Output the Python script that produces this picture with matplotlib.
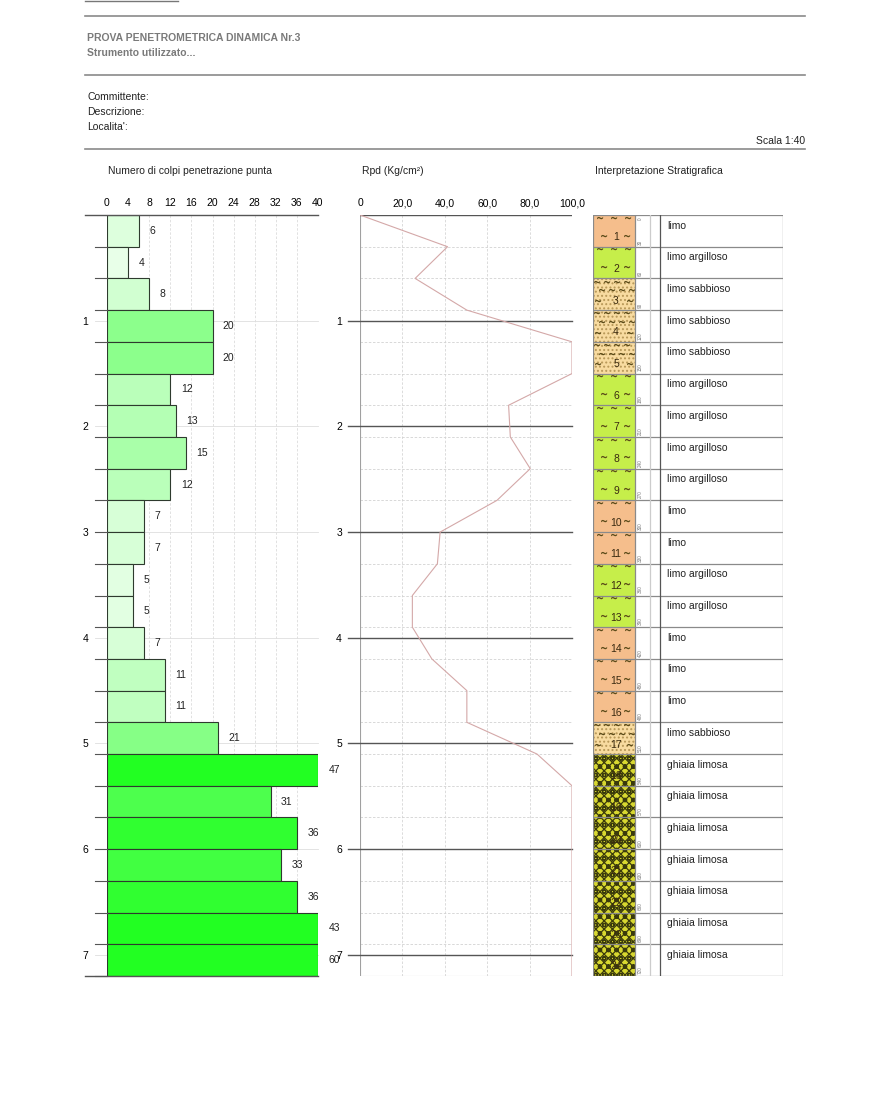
import matplotlib
matplotlib.use('Agg')
import matplotlib.pyplot as plt
import numpy as np
from matplotlib.patches import Rectangle

plt.rcParams['font.family'] = ['Liberation Sans', 'DejaVu Sans']
plt.rcParams['hatch.linewidth'] = 0.9

# --- data ---
layer_bottom = [0.3, 0.6, 0.9, 1.2, 1.5, 1.8, 2.1, 2.4, 2.7, 3.0, 3.3, 3.6,
                3.9, 4.2, 4.5, 4.8, 5.1, 5.4, 5.7, 6.0, 6.3, 6.6, 6.9, 7.2]
blows = [6, 4, 8, 20, 20, 12, 13, 15, 12, 7, 7, 5,
         5, 7, 11, 11, 21, 47, 31, 36, 33, 36, 43, 60]
rpd_depth = [0.0] + layer_bottom
rpd = [0.0, 41.3, 26.0, 50.4, 100.0, 100.0, 70.1, 70.9, 80.3, 64.6, 37.8, 36.5,
       24.7, 24.7, 33.9, 50.4, 50.4, 83.5, 100.0, 100.0, 100.0, 100.0, 100.0, 100.0, 100.0]
strata = ['limo', 'limo argilloso', 'limo sabbioso', 'limo sabbioso', 'limo sabbioso',
          'limo argilloso', 'limo argilloso', 'limo argilloso', 'limo argilloso',
          'limo', 'limo', 'limo argilloso', 'limo argilloso', 'limo', 'limo', 'limo',
          'limo sabbioso', 'ghiaia limosa', 'ghiaia limosa', 'ghiaia limosa',
          'ghiaia limosa', 'ghiaia limosa', 'ghiaia limosa', 'ghiaia limosa']
blow_ticks = [0, 4, 8, 12, 16, 20, 24, 28, 32, 36, 40]
rpd_ticks = [0, 20, 40, 60, 80, 100]
rpd_ticklabels = ['0', '20,0', '40,0', '60,0', '80,0', '100,0']
depth_ticks = [1, 2, 3, 4, 5, 6, 7]

W, H = 889, 1100
FS = 7.5
fig = plt.figure(figsize=(W / 100, H / 100), dpi=100)


def px_axes(x0, y0, x1, y1):
    return fig.add_axes([x0 / W, 1 - y1 / H, (x1 - x0) / W, (y1 - y0) / H])


# overlay in pixel coords for the header
ov = fig.add_axes([0, 0, 1, 1])
ov.set_xlim(0, W)
ov.set_ylim(H, 0)
ov.axis('off')

ov.plot([85, 178], [1, 1], color='#777777', lw=1)
for y in (16, 75, 149):
    ov.plot([85, 805], [y, y], color='#8a8a8a', lw=1.2)
ov.text(87, 38, 'PROVA PENETROMETRICA DINAMICA Nr.3', fontsize=FS, weight='bold',
        color='#7a7a7a', va='center')
ov.text(87, 53, 'Strumento utilizzato...', fontsize=FS, weight='bold', color='#7a7a7a', va='center')
ov.text(87, 97, 'Committente:', fontsize=FS, color='#222222', va='center')
ov.text(87, 112, 'Descrizione:', fontsize=FS, color='#222222', va='center')
ov.text(87, 127, "Localita':", fontsize=FS, color='#222222', va='center')
ov.text(805, 141, 'Scala 1:40', fontsize=FS, color='#222222', va='center', ha='right')
ov.text(108, 171, 'Numero di colpi penetrazione punta', fontsize=FS, color='#222222', va='center')
ov.text(362, 171, 'Rpd (Kg/cm\u00b2)', fontsize=FS, color='#222222', va='center')
ov.text(595, 171, 'Interpretazione Stratigrafica', fontsize=FS, color='#222222', va='center')

tops = [0.0] + layer_bottom[:-1]
mids = [(t + b) / 2 for t, b in zip(tops, layer_bottom)]

# --- left panel: blow counts ---
ax1 = px_axes(107, 215, 318, 976)
ax1.set_xlim(0, 40)
ax1.set_ylim(7.2, 0)
for s in ax1.spines.values():
    s.set_visible(False)
for x in blow_ticks[1:]:
    ax1.axvline(x, color='#dcdcdc', lw=0.6, ls=(0, (3, 2)), zorder=0)
for d in depth_ticks:
    ax1.plot([-2.3, 40], [d, d], color='#dedede', lw=0.6, clip_on=False, zorder=0)

shade = [max(255 - 5.75 * v, 34) / 255 for v in blows]
colors = [(c, 1.0, c) for c in shade]
ax1.barh(mids, np.minimum(blows, 40), height=0.3, left=0, color=colors,
         edgecolor='#2e3a2e', linewidth=0.8, zorder=2)
for v, m in zip(blows, mids):
    ax1.annotate(str(v), (min(v, 40), m), xytext=(7.5, 0), textcoords='offset points',
                 fontsize=FS, va='center', ha='left', color='#222222', annotation_clip=False)
for b in layer_bottom:
    ax1.plot([-2.3, 0], [b, b], color='#555555', lw=0.8, clip_on=False)
ax1.plot([-4.2, 40], [0, 0], color='#555555', lw=1, clip_on=False)
ax1.plot([-4.2, 40], [7.2, 7.2], color='#555555', lw=1, clip_on=False)

ax1.xaxis.tick_top()
ax1.set_xticks(blow_ticks)
ax1.set_yticks(depth_ticks)
ax1.tick_params(axis='x', length=0, pad=5, labelsize=FS)
ax1.tick_params(axis='y', length=0, pad=13.5, labelsize=FS)

# --- middle panel: Rpd ---
ax2 = px_axes(360, 215, 572, 976)
ax2.set_xlim(0, 100)
ax2.set_ylim(7.2, 0)
for s in ax2.spines.values():
    s.set_visible(False)
for x in rpd_ticks[1:]:
    ax2.axvline(x, color='#d6d6d6', lw=0.6, ls=(0, (3, 2)), zorder=0)
for b in layer_bottom:
    ax2.axhline(b, color='#d2d2d2', lw=0.6, ls=(0, (3, 2)), zorder=0)
ax2.axvline(0, color='#a0a0a0', lw=0.8)
ax2.axhline(7.2, color='#c8c8c8', lw=0.8)
ax2.axhline(0, color='#555555', lw=1)
for d in depth_ticks:
    ax2.plot([-5.7, 100], [d, d], color='#555555', lw=1, clip_on=False)
ax2.plot(rpd, rpd_depth, color='#d4a8a8', lw=0.8, zorder=3)

ax2.xaxis.tick_top()
ax2.set_xticks(rpd_ticks)
ax2.set_xticklabels(rpd_ticklabels)
ax2.set_yticks(depth_ticks)
ax2.tick_params(axis='x', length=0, pad=5, labelsize=FS)
ax2.tick_params(axis='y', length=0, pad=13, labelsize=FS)

# --- right panel: stratigraphy ---
ax3 = px_axes(593, 215, 783, 976)
ax3.set_xlim(593, 783)
ax3.set_ylim(7.2, 0)
ax3.axis('off')

fills = {'limo': '#f5be8c', 'limo argilloso': '#c6ee4a',
         'limo sabbioso': '#f8dba0', 'ghiaia limosa': '#d8d830'}
mark = '#5a4a18'
wave = dict(fontsize=7, color=mark, ha='center', va='center', zorder=3,
            family='DejaVu Sans', weight='bold')
for i, (name, t, b) in enumerate(zip(strata, tops, layer_bottom)):
    ax3.add_patch(Rectangle((593, t), 42, 0.3, facecolor=fills[name], edgecolor='none', zorder=1))
    if name == 'limo sabbioso':
        ax3.add_patch(Rectangle((593, t), 42, 0.3, fill=False, hatch='....',
                                edgecolor='#b89858', lw=0, zorder=2))
        for xx in (597, 607, 617, 627):
            ax3.text(xx, t + 0.035, '~', **wave)
        for xx in (602, 612, 622, 632):
            ax3.text(xx, t + 0.12, '~', **wave)
        for xx in (598, 630):
            ax3.text(xx, t + 0.22, '~', **wave)
    elif name == 'ghiaia limosa':
        ax3.add_patch(Rectangle((593, t), 42, 0.3, fill=False, hatch='xxxx',
                                edgecolor='#3a3a0c', lw=0, zorder=2))
        ax3.add_patch(Rectangle((593, t), 42, 0.3, fill=False, hatch='oo',
                                edgecolor='#3a3a0c', lw=0, zorder=2))
    else:
        for xx in (600, 614, 628):
            ax3.text(xx, t + 0.03, '~', **wave)
        for xx in (604, 627):
            ax3.text(xx, t + 0.2, '~', **wave)
    ax3.text(616, t + 0.21, str(i + 1), fontsize=FS, color='#3a2a10', ha='center', va='center', zorder=4)
    ax3.text(660 + 7, t + 0.1, name, fontsize=FS, color='#222222', va='center')
    ax3.text(640, b - 0.02, str(int(round(b * 100))), fontsize=3.3, color='#777777',
             rotation=90, ha='center', va='bottom')
    ax3.plot([593, 783], [b, b], color='#8a8a8a', lw=0.9, zorder=5)
ax3.text(640, 0.02, '0', fontsize=3.3, color='#777777', rotation=90, ha='center', va='top')
ax3.plot([593, 783], [0, 0], color='#8a8a8a', lw=0.9, zorder=5)
ax3.axvline(593, color='#8a8a8a', lw=0.9, zorder=5)
ax3.axvline(635, color='#8a8a8a', lw=0.9, zorder=5)
ax3.axvline(650, color='#cccccc', lw=0.9, zorder=5)
ax3.axvline(660, color='#555555', lw=0.9, zorder=5)
ax3.axvline(783, color='#8a8a8a', lw=0.9, zorder=5)

fig.savefig('out.png', dpi=100)
